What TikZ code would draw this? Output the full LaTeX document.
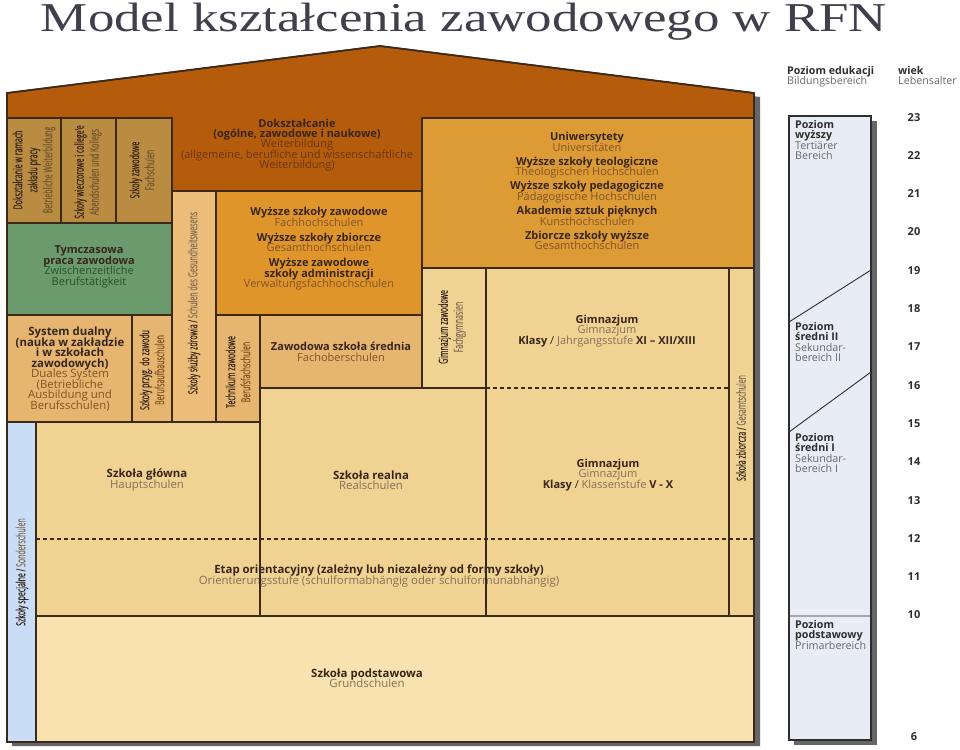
\documentclass[tikz,border=0pt]{standalone}
\usepackage{fontspec}
\setmainfont{Open Sans}
\newfontfamily\cnd[FakeStretch=0.56,FakeBold=0.35]{Open Sans}
\newfontfamily\ttlfont{Liberation Serif}
\setlength{\lineskiplimit}{-30pt}
\definecolor{roofc}{RGB}{181,92,12}
\definecolor{tanA}{RGB}{186,140,66}
\definecolor{grnA}{RGB}{107,154,108}
\definecolor{zdrc}{RGB}{235,189,120}
\definecolor{wszc}{RGB}{224,149,43}
\definecolor{unic}{RGB}{221,155,54}
\definecolor{midc}{RGB}{230,181,111}
\definecolor{ltc}{RGB}{240,211,146}
\definecolor{podc}{RGB}{248,227,176}
\definecolor{bluec}{RGB}{201,222,246}
\definecolor{panc}{RGB}{232,236,245}
\definecolor{bdr}{RGB}{59,42,26}
\definecolor{dk}{RGB}{55,38,28}
\definecolor{gmL}{RGB}{133,112,88}
\definecolor{gmO}{RGB}{130,84,38}
\definecolor{gmT}{RGB}{115,88,50}
\definecolor{gmD}{RGB}{105,55,18}
\definecolor{gmG}{RGB}{38,84,44}
\definecolor{pdk}{RGB}{46,46,46}
\definecolor{pgr}{RGB}{105,105,105}
\definecolor{ttlc}{RGB}{64,64,76}
\newcommand\germL[1]{\textcolor{gmL}{#1}}
\newcommand\germO[1]{\textcolor{gmO}{#1}}
\newcommand\germT[1]{\textcolor{gmT}{#1}}
\newcommand\germD[1]{\textcolor{gmD}{#1}}
\newcommand\germG[1]{\textcolor{gmG}{#1}}
\newcommand\germP[1]{\textcolor{pgr}{#1}}
\begin{document}
\begin{tikzpicture}[x=1pt,y=-1pt,
  box/.style={draw=bdr, line width=1.1pt},
  txt/.style={align=center, text=dk, inner sep=0pt, font=\fontsize{11}{10.6}\selectfont},
  txtb/.style={align=center, text=dk, inner sep=0pt, font=\fontsize{11.4}{10.5}\selectfont},
  rot/.style={rotate=90, align=center, text=dk, inner sep=0pt, font=\cnd\fontsize{12.5}{15}\selectfont},
  pan/.style={align=left, anchor=north west, text=pdk, inner sep=0pt, font=\fontsize{10.7}{10.5}\selectfont},
  age/.style={text=pdk, inner sep=0pt, font=\bfseries\fontsize{11}{11}\selectfont},
  dsh/.style={draw=bdr, line width=1.1pt, dash pattern=on 4pt off 3pt}]
\useasboundingbox (0,0) rectangle (960,749);
% title
\node[anchor=base, text=ttlc] (title) at (464,32) {\ttlfont\fontsize{41}{41}\selectfont\scalebox{1.29}[1]{Model kształcenia zawodowego w RFN}};
% house
\fill[black!60] (12,97)--(385,50)--(760,97)--(760,746)--(12,746)--cycle;
\filldraw[fill=roofc, draw=bdr, line width=1.6pt] (7,742)--(7,93)--(380,46)--(754,93)--(754,742)--cycle;
% boxes
\filldraw[box, fill=tanA] (7,118) rectangle (61,223);
\filldraw[box, fill=tanA] (61,118) rectangle (116,223);
\filldraw[box, fill=tanA] (116,118) rectangle (172,223);
\filldraw[box, fill=grnA] (7,223) rectangle (172,315);
\filldraw[box, fill=zdrc] (172,191) rectangle (216,422);
\filldraw[box, fill=wszc] (216,191) rectangle (422,315);
\filldraw[box, fill=unic] (422,118) rectangle (754,268);
\filldraw[box, fill=midc] (7,315) rectangle (132,422);
\filldraw[box, fill=midc] (132,315) rectangle (172,422);
\filldraw[box, fill=midc] (216,315) rectangle (260,422);
\filldraw[box, fill=midc] (260,315) rectangle (422,388);
\filldraw[box, fill=ltc] (422,268) rectangle (486,388);
\filldraw[box, fill=ltc] (486,268) rectangle (729,616);
\filldraw[box, fill=ltc] (729,268) rectangle (754,616);
\filldraw[box, fill=ltc] (260,388) rectangle (486,616);
\filldraw[box, fill=ltc] (36,422) rectangle (260,616);
\filldraw[box, fill=bluec] (7,422) rectangle (36,742);
\filldraw[box, fill=podc] (36,616) rectangle (754,742);
\draw[bdr, line width=1.6pt] (7,742)--(7,93)--(380,46)--(754,93)--(754,742)--cycle;
\coordinate (d1a) at (486,388); \coordinate (d1b) at (729,388);
\coordinate (d2a) at (36,539); \coordinate (d2b) at (754,539);
\draw[dsh] (d1a)--(d1b);
\draw[dsh] (d2a)--(d2b);
% texts
\node[txt, font=\fontsize{11}{10.2}\selectfont] (doksz) at (297,145) {\bfseries Dokształcanie\\\bfseries (ogólne, zawodowe i naukowe)\\\germD{Weiterbildung}\\\germD{(allgemeine, berufliche und wissenschaftliche}\\\germD{Weiterbildung)}};
\node[rot] (b1) at (34,170) {Dokształcanie w ramach\\zakładu pracy\\\germT{Betriebliche Weiterbildung}};
\node[rot] (b2) at (88,172) {Szkoły wieczorowe i college'e\\\germT{Abendschulen und Kollegs}};
\node[rot] (b3) at (142,170) {Szkoły zawodowe\\\germT{Fachschulen}};
\node[txt] (grn) at (89,267) {\bfseries Tymczasowa\\\bfseries praca zawodowa\\\germG{Zwischenzeitliche}\\\germG{Berufstätigkeit}};
\node[txt] (wsz) at (319,249) {\bfseries Wyższe szkoły zawodowe\\\germO{Fachhochschulen}\\[4.2pt]\bfseries Wyższe szkoły zbiorcze\\\germO{Gesamthochschulen}\\[4.2pt]\bfseries Wyższe zawodowe\\\bfseries szkoły administracji\\\germO{Verwaltungsfachhochschulen}};
\node[txt] (uni) at (587,191) {\bfseries Uniwersytety\\\germO{Universitäten}\\[3.4pt]\bfseries Wyższe szkoły teologiczne\\\germO{Theologischen Hochschulen}\\[3.4pt]\bfseries Wyższe szkoły pedagogiczne\\\germO{Pädagogische Hochschulen}\\[3.4pt]\bfseries Akademie sztuk pięknych\\\germO{Kunsthochschulen}\\[3.4pt]\bfseries Zbiorcze szkoły wyższe\\\germO{Gesamthochschulen}};
\node[rot] (zdr) at (194,303) {Szkoły służby zdrowia / \germL{Schulen des Gesundheitswesens}};
\node[txtb] (dual) at (70,369) {\bfseries System dualny\\\bfseries (nauka w zakładzie\\\bfseries i w szkołach\\\bfseries zawodowych)\\\germO{Duales System}\\\germO{(Betriebliche}\\\germO{Ausbildung und}\\\germO{Berufsschulen)}};
\node[rot] (przyg) at (152,370) {Szkoły przyg. do zawodu\\\germO{Berufsaufbauschulen}};
\node[rot] (tech) at (238,372) {Technikum zawodowe\\\germO{Berufsfachschulen}};
\node[txt] (zss) at (341,352) {\bfseries Zawodowa szkoła średnia\\\germO{Fachoberschulen}};
\node[rot] (gimz) at (452,327) {Gimnazjum zawodowe\\\germL{Fachgymnasien}};
\node[txt] (gim1) at (607,331) {\bfseries Gimnazjum\\\germL{Gimnazjum}\\{\bfseries Klasy} / \germL{Jahrgangsstufe} {\bfseries XI – XII/XIII}};
\node[txt] (gim2) at (608,475) {\bfseries Gimnazjum\\\germL{Gimnazjum}\\{\bfseries Klasy} / \germL{Klassenstufe} {\bfseries V - X}};
\node[txtb] (glow) at (147,480) {\bfseries Szkoła główna\\\germL{Hauptschulen}};
\node[txtb] (real) at (371,480) {\bfseries Szkoła realna\\\germL{Realschulen}};
\node[rot] (zbior) at (741,428) {Szkoła zbiorcza / \germL{Gesamtschulen}};
\node[rot] (spec) at (22,572) {Szkoły specjalne  / \germL{Sonderschulen}};
\node[txtb] (etap) at (379,576) {\bfseries Etap orientacyjny (zależny lub niezależny od formy szkoły)\\\germL{Orientierungsstufe (schulformabhängig oder schulformunabhängig)}};
\node[txtb] (podst) at (367,678) {\bfseries Szkoła podstawowa\\\germL{Grundschulen}};
\coordinate (v1a) at (260,539); \coordinate (v1b) at (260,616);
\coordinate (v2a) at (486,539); \coordinate (v2b) at (486,616);
\draw[bdr, line width=1.1pt] (v1a)--(v1b) (v2a)--(v2b);
% right panel
\node[pan] (hdr1) at (787,66) {\bfseries Poziom edukacji\\\germP{Bildungsbereich}};
\node[pan] (hdr2) at (898,66) {\bfseries wiek\\\germP{Lebensalter}};
\fill[black!60] (794,121) rectangle (877,745);
\filldraw[fill=panc, draw=pdk, line width=1.3pt] (789,116) rectangle (871,740);
\coordinate (p1) at (789,322); \coordinate (p2) at (871,270);
\coordinate (p3) at (789,432); \coordinate (p4) at (871,372);
\coordinate (p5) at (789,616); \coordinate (p6) at (871,616);
\draw[pdk, line width=0.9pt] (p1)--(p2) (p3)--(p4) (p5)--(p6);
\node[pan] (lv1) at (795,120) {\bfseries Poziom\\\bfseries wyższy\\\germP{Tertiärer}\\\germP{Bereich}};
\node[pan] (lv2) at (795,322) {\bfseries Poziom\\\bfseries średni II\\\germP{Sekundar-}\\\germP{bereich II}};
\node[pan] (lv3) at (795,433) {\bfseries Poziom\\\bfseries średni I\\\germP{Sekundar-}\\\germP{bereich I}};
\node[pan] (lv4) at (795,620) {\bfseries Poziom\\\bfseries podstawowy\\\germP{Primarbereich}};
\node[age] (a23) at (914,118) {23};
\node[age] (a22) at (914,156) {22};
\node[age] (a21) at (914,194) {21};
\node[age] (a20) at (914,232) {20};
\node[age] (a19) at (914,271) {19};
\node[age] (a18) at (914,309) {18};
\node[age] (a17) at (914,347) {17};
\node[age] (a16) at (914,386) {16};
\node[age] (a15) at (914,424) {15};
\node[age] (a14) at (914,462) {14};
\node[age] (a13) at (914,501) {13};
\node[age] (a12) at (914,539) {12};
\node[age] (a11) at (914,577) {11};
\node[age] (a10) at (914,615) {10};
\node[age] (a6) at (914,737) {6};
\end{tikzpicture}
\end{document}
